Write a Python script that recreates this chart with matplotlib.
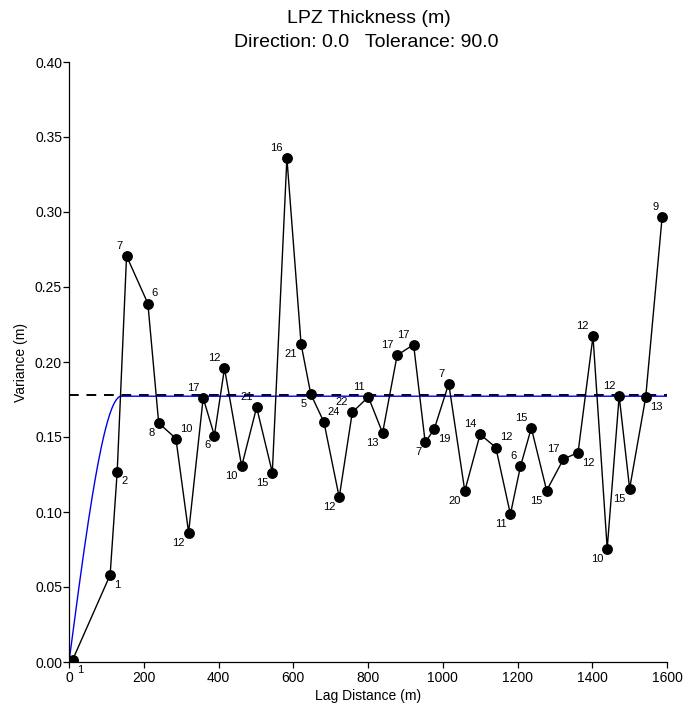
import matplotlib.pyplot as plt
import numpy as np

plt.rcParams['font.family'] = ['Liberation Sans', 'DejaVu Sans']

# experimental variogram: lag distance, variance, pair count
lag = [10, 110, 129, 154, 211, 240, 286, 320, 359, 389, 416, 462, 502, 544,
       583, 621, 647, 682, 723, 758, 801, 839, 878, 922, 953, 977, 1016,
       1059, 1100, 1142, 1181, 1208, 1237, 1278, 1323, 1362, 1402, 1440,
       1472, 1500, 1543, 1587]
variance = [0.0016, 0.058, 0.127, 0.2707, 0.239, 0.1593, 0.149, 0.0863,
            0.176, 0.151, 0.1958, 0.1305, 0.1698, 0.1263, 0.336, 0.2118,
            0.1785, 0.160, 0.1098, 0.1665, 0.1767, 0.1527, 0.2045, 0.2116,
            0.1465, 0.1551, 0.1856, 0.114, 0.1518, 0.143, 0.0985, 0.1305,
            0.156, 0.1143, 0.1353, 0.1396, 0.2171, 0.0756, 0.1773, 0.1156,
            0.1765, 0.2967]
pairs = [1, 1, 2, 7, 6, 8, 10, 12, 17, 6, 12, 10, 21, 15, 16, 21, 5, 24,
         12, 22, 11, 13, 17, 17, 7, 19, 7, 20, 14, 12, 11, 6, 15, 15, 17,
         12, 12, 10, 12, 15, 13, 9]
# where each count label sits relative to its point
label_side = ['lr', 'lr', 'lr', 'ul', 'ur', 'll', 'ur', 'll', 'ul', 'll',
              'ul', 'll', 'ul', 'll', 'ul', 'll', 'll', 'ur', 'll', 'ul',
              'ul', 'll', 'ul', 'ul', 'll', 'lr', 'ul', 'll', 'ul', 'ur',
              'll', 'ul', 'ul', 'll', 'ul', 'lr', 'ul', 'll', 'ul', 'll',
              'lr', 'ul']

# sample variance and spherical model
sample_var = 0.1778
nugget = 0.0
sill = 0.1772
model_range = 140.0

fig = plt.figure(figsize=(6.84, 7.13), dpi=100)
ax = fig.add_axes([69 / 684, 51 / 713, 598 / 684, 600 / 713])

ax.axhline(sample_var, color='black', linewidth=1.4, dashes=(5, 4))

h = np.linspace(0, 1600, 801)
r = np.minimum(h / model_range, 1.0)
gamma = nugget + (sill - nugget) * (1.5 * r - 0.5 * r ** 3)
ax.plot(h, gamma, color='#0000ee', linewidth=1.0)

ax.plot(lag, variance, color='black', linewidth=1.0, marker='o',
        markersize=6.8, markerfacecolor='black', markeredgecolor='black')

offsets = {'ur': (4, 5, 'left', 'bottom'), 'ul': (-4, 5, 'right', 'bottom'),
           'lr': (4, -5, 'left', 'top'), 'll': (-4, -5, 'right', 'top')}
for x, y, n, side in zip(lag, variance, pairs, label_side):
    dx, dy, ha, va = offsets[side]
    ax.annotate(str(n), (x, y), xytext=(dx, dy), textcoords='offset pixels',
                ha=ha, va=va, fontsize=8)

ax.set_xlim(0, 1600)
ax.set_ylim(0, 0.40)
ax.set_xticks(np.arange(0, 1601, 200))
ax.set_yticks(np.arange(0, 0.401, 0.05))
ax.yaxis.set_major_formatter(plt.FormatStrFormatter('%.2f'))
ax.tick_params(direction='out', length=4.5, width=0.9, labelsize=10)
ax.tick_params(axis='y', pad=0.5)
ax.tick_params(axis='x', pad=2)
for side in ['top', 'right']:
    ax.spines[side].set_visible(False)
for side in ['left', 'bottom']:
    ax.spines[side].set_linewidth(0.9)

ax.set_xlabel('Lag Distance (m)', fontsize=10, labelpad=3)
ax.set_ylabel('Variance (m)', fontsize=10, labelpad=5)
fig.text(0.539, 0.968, 'LPZ Thickness (m)', ha='center', va='baseline', fontsize=14)
fig.text(0.536, 0.9345, 'Direction: 0.0   Tolerance: 90.0', ha='center', va='baseline', fontsize=14)

fig.savefig('out.png', dpi=100)
